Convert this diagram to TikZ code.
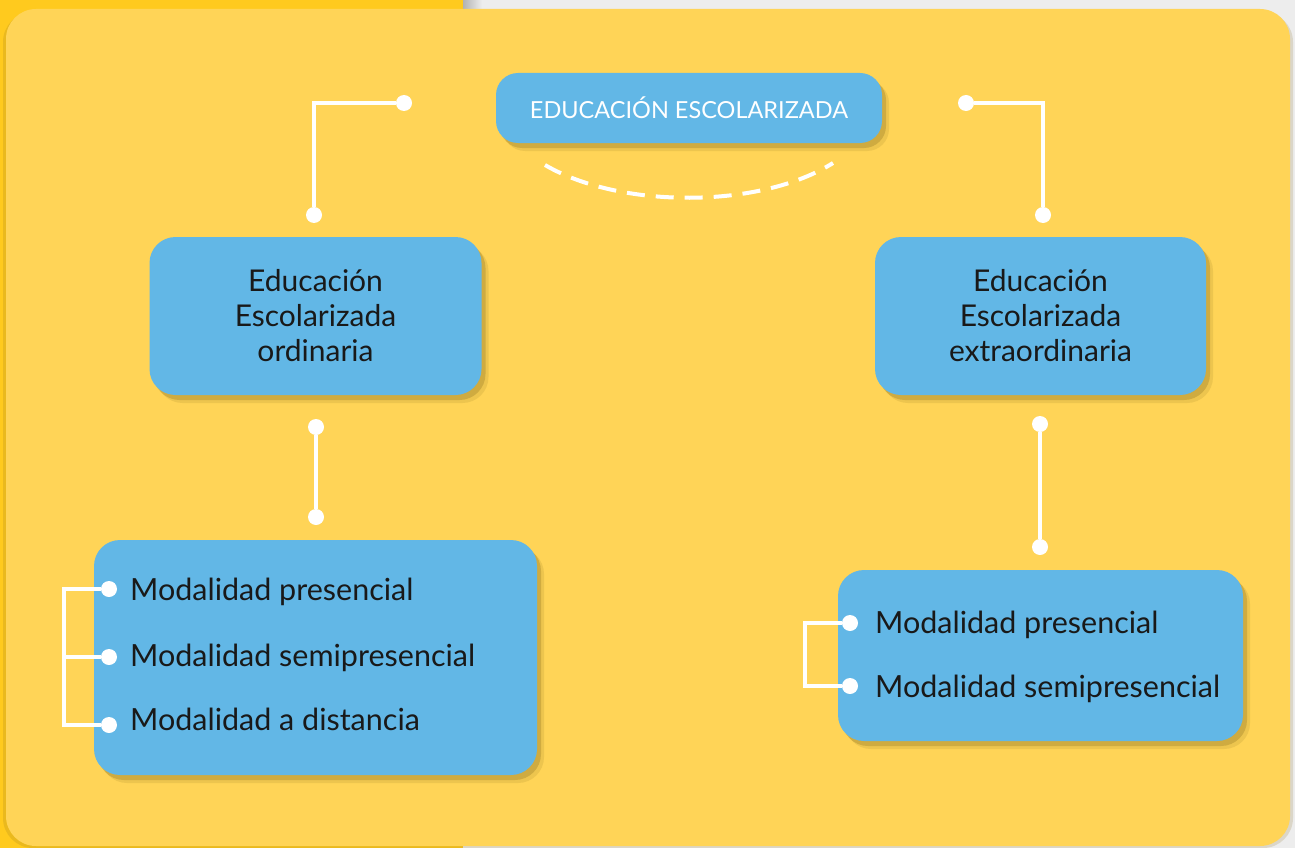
\documentclass[tikz,border=0pt]{standalone}
\usepackage{fontspec}
\setmainfont{Lato}
\usetikzlibrary{shadows}

\definecolor{bgyellow}{HTML}{FFD457}
\definecolor{gold}{HTML}{FFCA1E}
\definecolor{boxblue}{HTML}{62B7E6}
\definecolor{pagegray}{HTML}{EDEDED}
\definecolor{shadowc}{HTML}{8C7020}

\tikzset{
  boxshadow/.style={drop shadow={shadow xshift=7pt, shadow yshift=-8pt, fill=shadowc, opacity=0.15},
    drop shadow={shadow xshift=4pt, shadow yshift=-5pt, fill=shadowc, opacity=0.3}},
  topbox/.style={fill=boxblue, rounded corners=22pt, boxshadow, minimum width=386pt, minimum height=70pt,
    text=white, font=\fontsize{23.5}{28}\selectfont},
  midbox/.style={fill=boxblue, rounded corners=26pt, boxshadow, minimum height=158pt, align=center,
    text=black!90, font=\fontsize{30}{35}\selectfont},
  lowbox/.style={fill=boxblue, rounded corners=26pt, boxshadow},
  item/.style={anchor=base west, inner sep=0pt, text=black!90, font=\fontsize{30.5}{35}\selectfont},
  dot/.style={circle, fill=white, inner sep=0pt, minimum size=16pt},
  link/.style={white, line width=4pt}
}

\begin{document}
\begin{tikzpicture}[x=1pt,y=-1pt]
            % Page
            \fill[pagegray] (0,0) rectangle (1295,848);
            \fill[gold] (0,0) rectangle (463,848);
            \shade[left color=black!30, right color=pagegray] (463,0) rectangle (482,9);
            \fill[shadowc, opacity=0.18, rounded corners=30pt] (3,12) rectangle (1293,848);
            \fill[bgyellow, rounded corners=30pt] (6,9) rectangle (1290,846);

            % Boxes
            \node[topbox] (esc) at (689,108) {EDUCACIÓN ESCOLARIZADA};
            \node[midbox, minimum width=332pt] (ord) at (315.5,316) {Educación\\Escolarizada\\ordinaria};
            \node[midbox, minimum width=331pt] (ext) at (1040.5,316) {Educación\\Escolarizada\\extraordinaria};
            \node[lowbox, minimum width=443pt, minimum height=235pt] (ordmod) at (315.5,657.5) {};
            \node[lowbox, minimum width=405pt, minimum height=171pt] (extmod) at (1040.5,655.5) {};

            % Dashed arc under the title
            \coordinate (arcl) at (545,165);
            \coordinate (arcr) at (833,163);
            \draw[white, line width=4pt, dash pattern=on 18pt off 11pt] (arcl) .. controls (620,209) and (760,209) .. (arcr);

            % Connectors
            \node[dot] (tl1) at (404,103) {};
            \node[dot] (tl2) at (314,215) {};
            \draw[link] (tl1) -| (tl2);
            \node[dot] (tr1) at (966,103) {};
            \node[dot] (tr2) at (1043,215) {};
            \draw[link] (tr1) -| (tr2);
            \node[dot] (ml1) at (316,427) {};
            \node[dot] (ml2) at (316,517) {};
            \draw[link] (ml1) -- (ml2);
            \node[dot] (mr1) at (1040,424) {};
            \node[dot] (mr2) at (1040,547) {};
            \draw[link] (mr1) -- (mr2);

            % Left modalities
            \node[item] (om1) at (130,600) {Modalidad presencial};
            \node[item] (om2) at (130,666) {Modalidad semipresencial};
            \node[item] (om3) at (130,730) {Modalidad a distancia};
            \node[dot] (ob1) at (109,589) {};
            \node[dot] (ob2) at (109,657) {};
            \node[dot] (ob3) at (109,725) {};
            \coordinate (obrack) at (64,589);
            \draw[link] (ob1) -- (ob1 -| obrack) -- (ob3 -| obrack) -- (ob3);
            \draw[link] (ob2) -- (ob2 -| obrack);

            % Right modalities
            \node[item] (em1) at (875,633) {Modalidad presencial};
            \node[item] (em2) at (875,697) {Modalidad semipresencial};
            \node[dot] (eb1) at (850,623) {};
            \node[dot] (eb2) at (850,686) {};
            \coordinate (ebrack) at (805,623);
            \draw[link] (eb1) -- (eb1 -| ebrack) -- (eb2 -| ebrack) -- (eb2);
\end{tikzpicture}
\end{document}
